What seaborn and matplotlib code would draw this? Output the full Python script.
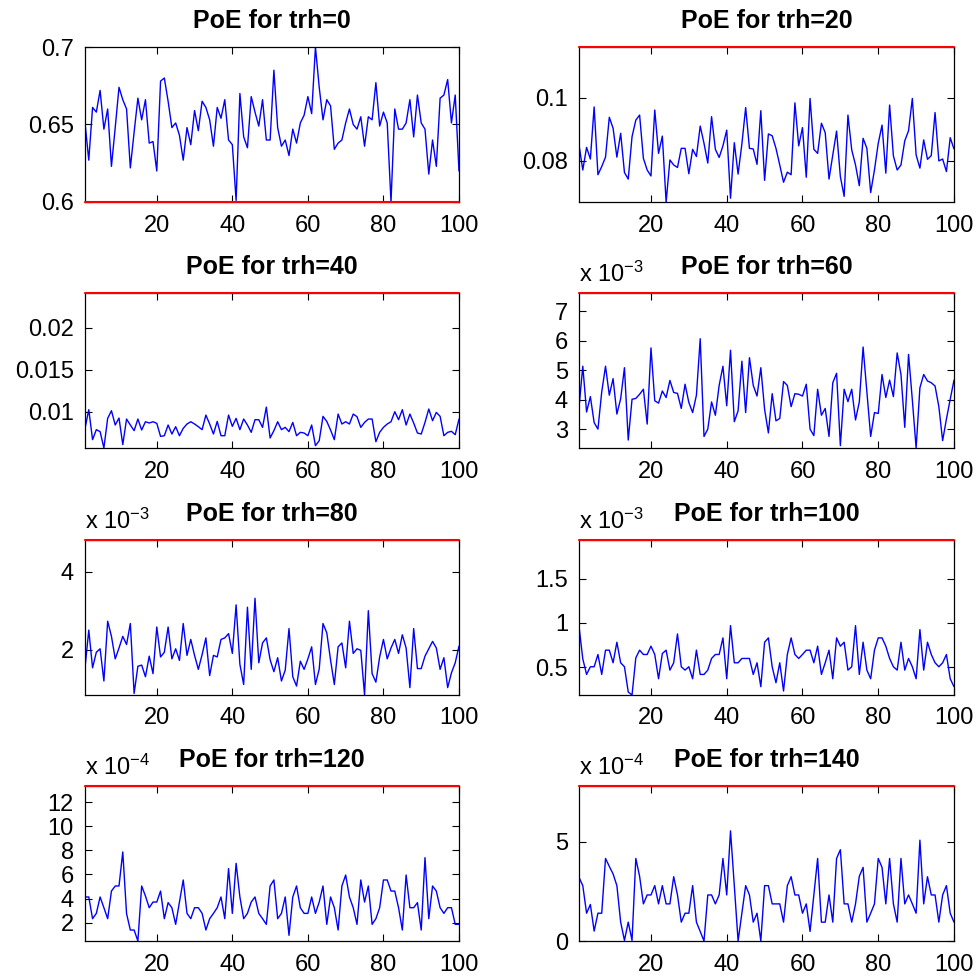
import numpy as np
import pandas as pd
import matplotlib
matplotlib.use("Agg")
import matplotlib.pyplot as plt
import seaborn as sns
from matplotlib.ticker import FixedLocator, FuncFormatter

# ---------------- data ----------------
x_index = list(range(1, 101))

thresholds = [0, 20, 40, 60, 80, 100, 120, 140]
scale_exp = [0, 0, 0, -3, -3, -3, -4, -4]   # values below are in units of 10**exp

poe_trh0 = [0.651, 0.627, 0.661, 0.658, 0.672, 0.647, 0.660, 0.623, 0.648, 0.674,
            0.666, 0.660, 0.622, 0.645, 0.667, 0.653, 0.666, 0.638, 0.639, 0.620,
            0.678, 0.680, 0.665, 0.648, 0.651, 0.643, 0.627, 0.648, 0.637, 0.659,
            0.646, 0.665, 0.661, 0.653, 0.636, 0.661, 0.654, 0.666, 0.640, 0.637,
            0.601, 0.670, 0.642, 0.635, 0.668, 0.658, 0.649, 0.666, 0.640, 0.640,
            0.685, 0.648, 0.636, 0.640, 0.630, 0.647, 0.638, 0.651, 0.656, 0.668,
            0.657, 0.700, 0.674, 0.653, 0.666, 0.662, 0.634, 0.638, 0.640, 0.651,
            0.660, 0.650, 0.647, 0.655, 0.636, 0.655, 0.653, 0.677, 0.649, 0.658,
            0.651, 0.600, 0.660, 0.647, 0.647, 0.651, 0.666, 0.642, 0.669, 0.651,
            0.647, 0.618, 0.640, 0.623, 0.667, 0.669, 0.679, 0.651, 0.669, 0.620]

poe_trh20 = [0.0850, 0.0770, 0.0842, 0.0805, 0.0971, 0.0755, 0.0781, 0.0811, 0.0938, 0.0903,
             0.0811, 0.0887, 0.0762, 0.0741, 0.0876, 0.0929, 0.0945, 0.0807, 0.0770, 0.0751,
             0.0961, 0.0823, 0.0878, 0.0668, 0.0802, 0.0786, 0.0778, 0.0839, 0.0839, 0.0758,
             0.0836, 0.0813, 0.0910, 0.0855, 0.0792, 0.0940, 0.0836, 0.0810, 0.0847, 0.0897,
             0.0680, 0.0857, 0.0757, 0.0853, 0.0969, 0.0839, 0.0837, 0.0788, 0.0959, 0.0737,
             0.0885, 0.0879, 0.0839, 0.0786, 0.0731, 0.0763, 0.0755, 0.0984, 0.0847, 0.0905,
             0.0747, 0.0998, 0.0836, 0.0823, 0.0919, 0.0889, 0.0741, 0.0818, 0.0894, 0.0749,
             0.0686, 0.0945, 0.0834, 0.0786, 0.0720, 0.0871, 0.0839, 0.0698, 0.0770, 0.0855,
             0.0913, 0.0760, 0.0977, 0.0815, 0.0770, 0.0786, 0.0863, 0.0895, 0.0998, 0.0818,
             0.0776, 0.0866, 0.0804, 0.0816, 0.0953, 0.0799, 0.0805, 0.0765, 0.0873, 0.0837]

poe_trh40 = [0.00802, 0.01024, 0.00668, 0.00787, 0.00763, 0.00569, 0.00921, 0.01012, 0.00842, 0.00925,
             0.00609, 0.00913, 0.00842, 0.00775, 0.00913, 0.00783, 0.00881, 0.00866, 0.00881, 0.00862,
             0.00707, 0.00715, 0.00842, 0.00735, 0.00822, 0.00715, 0.00802, 0.00854, 0.00881, 0.00854,
             0.00822, 0.00787, 0.00960, 0.00854, 0.00735, 0.00885, 0.00715, 0.00715, 0.00960, 0.00826,
             0.00921, 0.00787, 0.00913, 0.00842, 0.00755, 0.00905, 0.00905, 0.00814, 0.01055, 0.00688,
             0.00775, 0.00881, 0.00787, 0.00814, 0.00763, 0.00873, 0.00715, 0.00755, 0.00747, 0.00715,
             0.00842, 0.00597, 0.00656, 0.00945, 0.00885, 0.00783, 0.00668, 0.00972, 0.00854, 0.00881,
             0.00854, 0.00972, 0.00941, 0.00814, 0.00873, 0.00913, 0.00913, 0.00644, 0.00755, 0.00814,
             0.00854, 0.00881, 0.01000, 0.00905, 0.01024, 0.00842, 0.00972, 0.00866, 0.00747, 0.00735,
             0.00873, 0.01032, 0.00893, 0.00992, 0.00945, 0.00715, 0.00755, 0.00767, 0.00727, 0.00913]

poe_trh60 = [3.73, 5.13, 3.58, 4.10, 3.22, 3.00, 4.26, 5.13, 4.15, 4.71,
             3.51, 4.03, 5.08, 2.63, 4.01, 4.04, 4.18, 4.35, 3.17, 5.75,
             3.96, 3.88, 4.29, 4.07, 4.65, 4.24, 4.21, 3.70, 4.52, 3.90,
             3.56, 4.15, 6.06, 2.75, 3.00, 3.92, 3.47, 4.48, 5.13, 3.79,
             5.67, 3.25, 3.62, 5.30, 3.56, 5.42, 4.48, 4.12, 5.08, 3.67,
             2.87, 4.20, 3.28, 3.36, 4.61, 4.48, 3.76, 4.20, 4.18, 4.12,
             4.52, 3.00, 2.78, 4.35, 3.47, 3.70, 2.75, 4.57, 4.89, 2.44,
             4.35, 3.93, 4.35, 3.31, 3.92, 5.78, 4.26, 2.75, 3.56, 3.53,
             4.85, 4.07, 4.66, 4.10, 5.58, 4.85, 3.06, 5.53, 3.99, 2.36,
             4.40, 4.85, 4.63, 4.57, 4.46, 3.76, 2.61, 3.34, 4.01, 4.66]

poe_trh80 = [1.53, 2.50, 1.53, 1.93, 2.02, 1.19, 2.73, 2.34, 1.76, 2.04,
             2.34, 2.13, 2.67, 0.87, 1.57, 1.60, 1.30, 1.83, 1.38, 2.58,
             1.81, 1.93, 2.58, 1.76, 2.02, 1.72, 2.67, 1.85, 2.26, 1.85,
             1.49, 1.87, 2.30, 1.33, 1.85, 1.81, 2.26, 2.30, 2.41, 1.90,
             3.15, 1.62, 1.10, 3.09, 1.49, 3.32, 1.66, 2.17, 2.30, 1.74,
             1.43, 1.79, 1.19, 1.47, 2.54, 1.30, 1.06, 1.70, 1.49, 1.76,
             2.07, 1.10, 1.50, 2.67, 2.43, 1.73, 1.10, 2.07, 2.17, 1.53,
             2.73, 1.90, 2.02, 1.98, 0.83, 3.00, 1.38, 1.16, 1.81, 2.26,
             1.76, 2.04, 2.26, 1.90, 2.38, 2.04, 1.02, 2.54, 1.51, 1.51,
             1.83, 2.02, 2.21, 2.04, 1.49, 1.79, 1.02, 1.40, 1.66, 2.09]

poe_trh100 = [0.962, 0.594, 0.417, 0.504, 0.504, 0.643, 0.417, 0.692, 0.692, 0.549,
              0.782, 0.549, 0.504, 0.218, 0.184, 0.605, 0.692, 0.643, 0.643, 0.737,
              0.643, 0.368, 0.654, 0.692, 0.466, 0.549, 0.876, 0.504, 0.466, 0.504,
              0.368, 0.692, 0.417, 0.417, 0.466, 0.598, 0.643, 0.643, 0.831, 0.368,
              0.970, 0.549, 0.549, 0.598, 0.598, 0.598, 0.417, 0.549, 0.278, 0.782,
              0.831, 0.504, 0.323, 0.549, 0.229, 0.643, 0.831, 0.643, 0.598, 0.643,
              0.692, 0.692, 0.549, 0.737, 0.417, 0.549, 0.692, 0.368, 0.831, 0.737,
              0.782, 0.466, 0.504, 0.970, 0.417, 0.782, 0.466, 0.368, 0.692, 0.831,
              0.831, 0.737, 0.598, 0.504, 0.466, 0.782, 0.466, 0.598, 0.504, 0.368,
              0.925, 0.466, 0.782, 0.643, 0.549, 0.504, 0.549, 0.643, 0.368, 0.278]

poe_trh120 = [4.13, 4.13, 2.33, 2.77, 4.13, 3.24, 2.33, 4.62, 5.04, 5.04,
              7.86, 2.75, 1.39, 1.39, 0.48, 5.04, 4.21, 3.24, 3.71, 3.71,
              4.62, 2.33, 3.66, 3.24, 1.86, 3.71, 5.54, 2.77, 2.33, 3.24,
              3.24, 2.77, 1.39, 2.33, 2.77, 3.24, 4.13, 2.33, 6.48, 2.77,
              6.92, 4.13, 2.33, 2.77, 3.71, 4.13, 2.77, 2.33, 1.86, 5.04,
              5.54, 2.33, 2.77, 4.13, 0.95, 4.13, 5.04, 3.24, 2.77, 2.77,
              4.13, 2.77, 3.71, 5.04, 1.86, 4.13, 3.24, 1.39, 5.04, 5.95,
              4.13, 3.24, 1.86, 5.54, 3.71, 5.04, 1.86, 2.33, 3.24, 5.54,
              5.54, 4.62, 4.62, 3.24, 1.39, 5.95, 3.24, 3.24, 3.66, 1.39,
              7.39, 2.33, 5.04, 4.62, 3.24, 2.77, 3.24, 3.24, 1.86, 1.86]

poe_trh140 = [3.21, 2.79, 1.40, 1.84, 0.50, 1.40, 1.40, 4.16, 3.76, 3.38,
              2.79, 0.95, 0.03, 0.95, 0.03, 4.16, 3.26, 1.87, 2.32, 2.32,
              2.79, 1.87, 2.79, 1.87, 1.87, 3.24, 2.32, 0.95, 1.40, 1.40,
              2.79, 0.95, 0.48, 0.00, 2.32, 2.32, 1.87, 2.32, 4.16, 2.32,
              5.55, 2.79, 0.00, 1.40, 2.79, 2.32, 0.95, 1.40, 0.00, 2.79,
              2.79, 1.87, 1.87, 1.87, 0.95, 2.79, 3.24, 2.32, 2.32, 1.40,
              1.87, 0.48, 2.32, 4.16, 0.95, 0.95, 2.32, 0.95, 4.16, 4.60,
              1.87, 1.87, 0.95, 1.87, 3.26, 3.71, 0.95, 1.40, 1.87, 4.16,
              3.71, 1.87, 4.16, 1.87, 0.95, 4.16, 1.87, 2.32, 1.87, 1.40,
              5.08, 1.87, 3.24, 2.32, 2.32, 0.95, 2.32, 2.79, 1.40, 0.95]

# red reference level per panel (same units as the series)
ref_level = [0.6, 0.1162, 0.0241, 7.61, 4.82, 1.94, 13.33, 7.81]

series = [poe_trh0, poe_trh20, poe_trh40, poe_trh60,
          poe_trh80, poe_trh100, poe_trh120, poe_trh140]

y_ticks = [[0.6, 0.65, 0.7], [0.08, 0.1], [0.01, 0.015, 0.02], [3, 4, 5, 6, 7],
           [2, 4], [0.5, 1, 1.5], [2, 4, 6, 8, 10, 12], [0, 5]]
x_ticks = [20, 40, 60, 80, 100]

# ---------------- style ----------------
sns.set_theme(style="ticks")
plt.rcParams["font.family"] = ["Liberation Sans", "DejaVu Sans"]
plt.rcParams["mathtext.fontset"] = "custom"
plt.rcParams["mathtext.rm"] = "Liberation Sans"
plt.rcParams["mathtext.it"] = "Liberation Sans"
plt.rcParams["mathtext.bf"] = "Liberation Sans:bold"
for k in ["text.color", "axes.labelcolor", "xtick.color", "ytick.color", "axes.edgecolor"]:
    plt.rcParams[k] = "black"

fig = plt.figure(figsize=(9.8, 9.8), dpi=100)
fig.patch.set_facecolor("white")

W = H = 980.0
col_left = [85, 579]
col_width = [374, 375]
row_top = [47, 293, 540, 786]
ax_h = 155

for i in range(8):
    r, c = divmod(i, 2)
    left = col_left[c] / W
    bottom = 1 - (row_top[r] + ax_h) / H
    ax = fig.add_axes([left, bottom, col_width[c] / W, ax_h / H])

    df = pd.DataFrame({"x": x_index, "y": series[i]})
    sns.lineplot(data=df, x="x", y="y", ax=ax, color="#0000ff", linewidth=1.0)

    lo = min(min(series[i]), ref_level[i])
    hi = max(max(series[i]), ref_level[i])
    ax.set_xlim(1, 100)
    ax.set_ylim(lo, hi)
    ax.axhline(ref_level[i], color="#ff0000", linewidth=1.5, clip_on=False, zorder=5)

    ax.xaxis.set_major_locator(FixedLocator(x_ticks))
    ax.yaxis.set_major_locator(FixedLocator(y_ticks[i]))
    ax.yaxis.set_major_formatter(FuncFormatter(lambda v, p: "%g" % v))
    ax.tick_params(axis="both", which="both", direction="in", length=5, width=0.8,
                   top=True, right=True, labelsize=17, colors="black")
    ax.tick_params(axis="x", pad=9)
    ax.tick_params(axis="y", pad=8)
    for s in ax.spines.values():
        s.set_color("black")
        s.set_linewidth(0.9)
    ax.set_xlabel("")
    ax.set_ylabel("")
    ax.set_title("PoE for trh=%d" % thresholds[i], fontsize=18, fontweight="bold",
                 pad=14, color="black")
    if scale_exp[i] != 0:
        ax.text(0.0, 1.07, r"x 10$^{%d}$" % scale_exp[i], transform=ax.transAxes,
                ha="left", va="baseline", fontsize=17, color="black")

fig.savefig("out.png", dpi=100, facecolor="white")
